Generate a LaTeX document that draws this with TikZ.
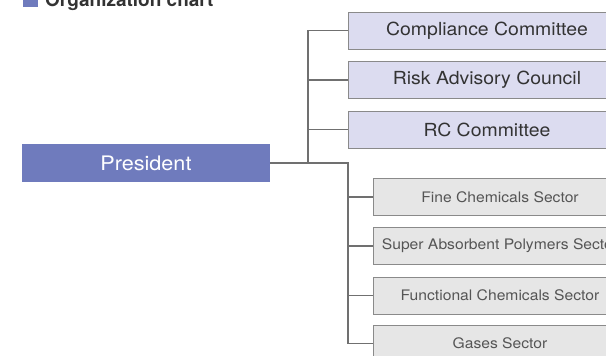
\documentclass[tikz,border=0pt]{standalone}
\usepackage{fontspec}
\setmainfont{TeX Gyre Heros}
\newfontfamily\widefont[FakeStretch=1.08]{TeX Gyre Heros}
\definecolor{presfill}{HTML}{6F7BBD}
\definecolor{upfill}{HTML}{DCDCF0}
\definecolor{lowfill}{HTML}{E6E6E6}
\definecolor{boxline}{HTML}{8A8A8A}
\definecolor{conline}{HTML}{707070}
\definecolor{uptext}{HTML}{333333}
\definecolor{lowtext}{HTML}{555555}
\begin{document}
\begin{tikzpicture}[x=1pt,y=-1pt,
  upbox/.style={draw=boxline,line width=1pt,fill=upfill,minimum width=278pt,minimum height=37pt,inner sep=0pt,text=uptext,font=\widefont\fontsize{18}{20}\selectfont},
  lowbox/.style={draw=boxline,line width=1pt,fill=lowfill,minimum width=254pt,minimum height=37pt,inner sep=0pt,text=lowtext,font=\widefont\fontsize{14.5}{16}\selectfont},
  presbox/.style={fill=presfill,minimum width=248pt,minimum height=38pt,inner sep=0pt,text=white,font=\widefont\fontsize{20}{22}\selectfont},
  conn/.style={draw=conline,line width=1.2pt}]
\useasboundingbox (0,0) rectangle (606,356);
\clip (0,0) rectangle (606,356);
% title
\fill[presfill] (23,-10) rectangle (38,6.7);
\node[anchor=base west,inner sep=0pt,font=\bfseries\fontsize{19}{21}\selectfont,text=uptext] (title) at (45,6.5) {Organization chart};
% boxes
\node[presbox] (pres) at (146,163) {President};
\node[upbox] (b1) at (487,30.5) {Compliance Committee};
\node[upbox] (b2) at (487,80) {Risk Advisory Council};
\node[upbox] (b3) at (487,129.5) {RC Committee};
\node[lowbox] (l1) at (500,197) {Fine Chemicals Sector};
\node[lowbox] (l2) at (500,246) {Super Absorbent Polymers Sector};
\node[lowbox] (l3) at (500,295.5) {Functional Chemicals Sector};
\node[lowbox] (l4) at (500,343.5) {Gases Sector};
% connectors
\coordinate (j1) at (308,163);
\coordinate (j2) at (348,163);
\draw[conn] (b1.west) -| (j1);
\draw[conn] (b2.west) -- (b2.west -| j1);
\draw[conn] (b3.west) -- (b3.west -| j1);
\draw[conn] (pres.east) -- (j2) |- (l4.west);
\draw[conn] (l1.west) -- (l1.west -| j2);
\draw[conn] (l2.west) -- (l2.west -| j2);
\draw[conn] (l3.west) -- (l3.west -| j2);
\end{tikzpicture}
\end{document}
